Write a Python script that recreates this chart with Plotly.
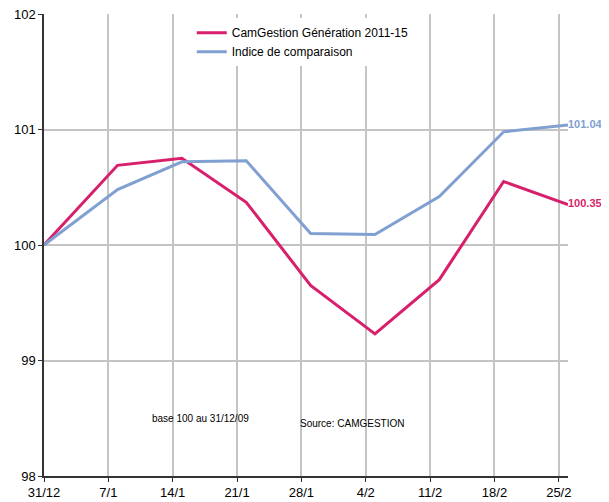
import plotly.graph_objects as go

dates = ["2009-12-31", "2010-01-08", "2010-01-15", "2010-01-22", "2010-01-29",
         "2010-02-05", "2010-02-12", "2010-02-19", "2010-02-26"]
camgestion = [100.00, 100.69, 100.75, 100.37, 99.65, 99.23, 99.70, 100.55, 100.35]
indice = [100.00, 100.48, 100.72, 100.73, 100.10, 100.09, 100.42, 100.98, 101.04]
series_names = ["CamGestion Génération 2011-15", "Indice de comparaison"]
y_ticks = [98, 99, 100, 101, 102]

RED = "#d81f6c"
BLUE = "#81a0d2"
FONT = "Arial, Liberation Sans, sans-serif"

def end_label(vals):
    return [""] * (len(vals) - 1) + [f"<b>{vals[-1]:.2f}</b>"]

fig = go.Figure()
fig.add_trace(go.Scatter(
    x=dates, y=camgestion, name=series_names[0], mode="lines+text",
    line=dict(color=RED, width=3), text=end_label(camgestion),
    textposition="middle right", textfont=dict(color=RED, size=11, family=FONT),
    cliponaxis=False))
fig.add_trace(go.Scatter(
    x=dates, y=indice, name=series_names[1], mode="lines+text",
    line=dict(color=BLUE, width=3), text=end_label(indice),
    textposition="middle right", textfont=dict(color=BLUE, size=11, family=FONT),
    cliponaxis=False))

# page body adds ~8px offset; figure sized to fit 609x502 window
fig.update_layout(
    width=601, height=494,
    margin=dict(l=36, r=41, t=6, b=26, autoexpand=False),
    paper_bgcolor="white", plot_bgcolor="white",
    font=dict(family=FONT, size=13, color="#000000"),
    showlegend=True,
    legend=dict(x=0.282, y=0.991, xanchor="left", yanchor="top",
                bgcolor="white", font=dict(size=12, family=FONT),
                borderwidth=0, tracegroupgap=0),
    xaxis=dict(
        type="date", range=["2009-12-31", "2010-02-26"], automargin=False,
        tick0="2009-12-31", dtick=7 * 86400000, tickformat="%-d/%-m",
        showgrid=True, gridcolor="#c4c4c4", gridwidth=1.5,
        showline=True, linecolor="#333333", linewidth=1.5,
        ticks="outside", ticklen=4, tickcolor="#333333",
        ticklabeloverflow="allow",
        tickfont=dict(size=13), zeroline=False),
    yaxis=dict(
        range=[98, 102], tickvals=y_ticks, automargin=False,
        showgrid=True, gridcolor="#c4c4c4", gridwidth=1.5,
        showline=True, linecolor="#333333", linewidth=1.5,
        ticks="outside", ticklen=4, tickcolor="#333333",
        ticklabeloverflow="allow",
        tickfont=dict(size=13), zeroline=False),
    annotations=[
        dict(text="base 100 au 31/12/09", x=0.298, y=0.1255, xref="paper", yref="paper",
             xanchor="center", yanchor="middle",
             showarrow=False, font=dict(size=10, family=FONT)),
        dict(text="Source: CAMGESTION", x=0.588, y=0.1126, xref="paper", yref="paper",
             xanchor="center", yanchor="middle",
             showarrow=False, font=dict(size=10, family=FONT)),
    ],
)

fig.write_html("out.html")
